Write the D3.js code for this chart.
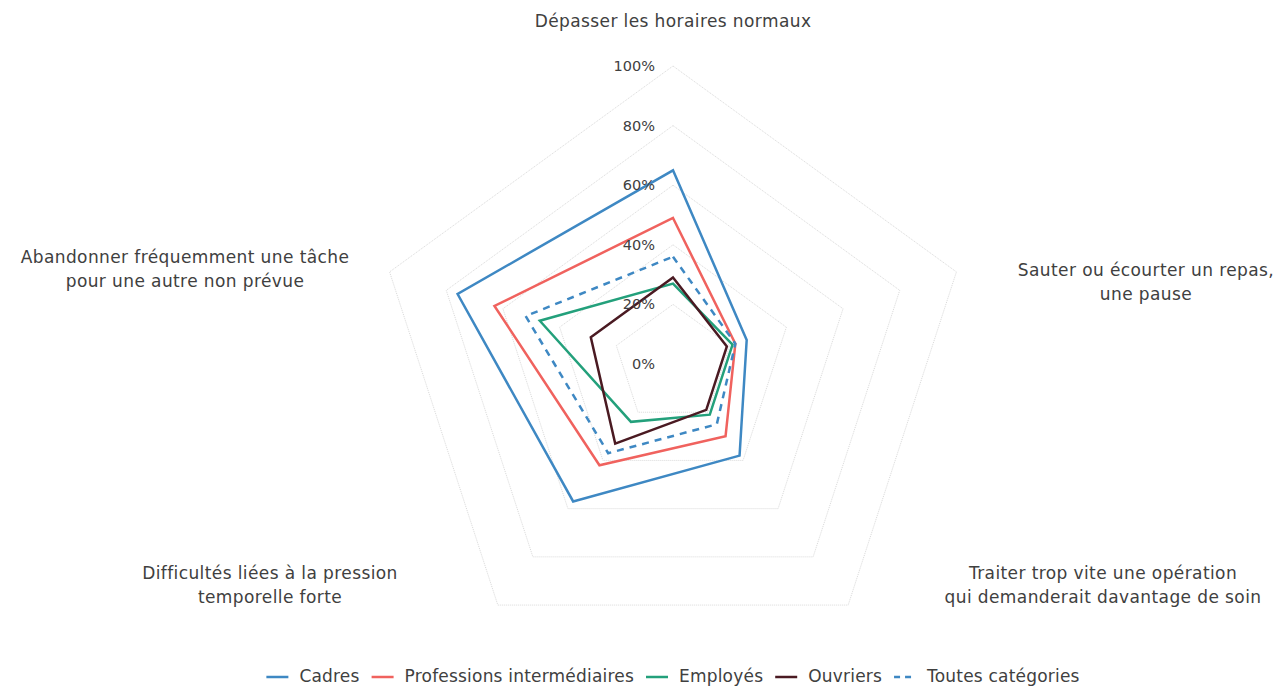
<meta charset="utf-8">
<body style="margin:0;background:#fff">
<div id="chart"></div>
</body>
<script src="https://cdn.jsdelivr.net/npm/d3@7"></script>
<script>
var axes = [
  ["Dépasser les horaires normaux"],
  ["Sauter ou écourter un repas,", "une pause"],
  ["Traiter trop vite une opération", "qui demanderait davantage de soin"],
  ["Difficultés liées à la pression", "temporelle forte"],
  ["Abandonner fréquemment une tâche", "pour une autre non prévue"]
];
var seriesNames = ["Cadres", "Professions intermédiaires", "Employés", "Ouvriers", "Toutes catégories"];
var cadres = [65, 26, 38, 57, 76];
var profInter = [49, 22, 30, 42, 63];
var employes = [27, 21, 21, 24, 47];
var ouvriers = [29, 19, 19, 33, 29];
var toutes = [36, 22, 25, 37, 52];
var ticks = [0, 20, 40, 60, 80, 100];

var colors = ["#3e88c3", "#f0625e", "#23a07b", "#4a1a22", "#3e88c3"];
var dashes = [null, null, null, null, "7,6"];
var allSeries = [cadres, profInter, employes, ouvriers, toutes];

var width = 1286, height = 686;
var cx = 673, cy = 364, R = 298;

var svg = d3.select("#chart").append("svg")
  .attr("width", width)
  .attr("height", height)
  .style("font-family", "'DejaVu Sans', sans-serif");

var r = d3.scaleLinear().domain([0, 100]).range([0, R]);
var angle = d3.scaleLinear().domain([0, axes.length]).range([0, 2 * Math.PI]);

function pt(i, v) {
  var a = angle(i);
  return [cx + r(v) * Math.sin(a), cy - r(v) * Math.cos(a)];
}

var line = d3.line().curve(d3.curveLinearClosed);

// grid
svg.append("g").selectAll("path")
  .data(ticks.slice(1))
  .enter().append("path")
  .attr("d", function(t) { return line(axes.map(function(d, i) { return pt(i, t); })); })
  .attr("fill", "none")
  .attr("stroke", "#d9d9d9")
  .attr("stroke-width", 1)
  .attr("stroke-dasharray", "1,1");

// series
svg.append("g").selectAll("path")
  .data(allSeries)
  .enter().append("path")
  .attr("d", function(s) { return line(s.map(function(v, i) { return pt(i, v); })); })
  .attr("fill", "none")
  .attr("stroke", function(d, i) { return colors[i]; })
  .attr("stroke-width", 2.5)
  .attr("stroke-linejoin", "miter")
  .attr("stroke-dasharray", function(d, i) { return dashes[i]; });

// tick labels
svg.append("g").selectAll("text")
  .data(ticks)
  .enter().append("text")
  .attr("x", cx - 18)
  .attr("y", function(t) { return cy - r(t) + 1; })
  .attr("text-anchor", "end")
  .attr("dominant-baseline", "middle")
  .attr("font-size", 14.5)
  .attr("fill", "#404040")
  .text(function(t) { return t + "%"; });

// axis labels
var labelPos = [[673, 22], [1146, 271], [1103, 574], [270, 574], [185, 258]];
axes.forEach(function(lines, i) {
  var t = svg.append("text")
    .attr("x", labelPos[i][0])
    .attr("y", labelPos[i][1])
    .attr("text-anchor", "middle")
    .attr("dominant-baseline", "middle")
    .attr("font-size", 17)
    .attr("letter-spacing", 0.4)
    .attr("fill", "#404040");
  lines.forEach(function(l, j) {
    t.append("tspan").attr("x", labelPos[i][0]).attr("dy", j ? 24 : 0).text(l);
  });
});

// legend
var legend = svg.append("g");
var x = 0;
seriesNames.forEach(function(name, i) {
  var g = legend.append("g").attr("transform", "translate(" + x + ",0)");
  g.append("line")
    .attr("x1", 0).attr("x2", 22).attr("y1", 0).attr("y2", 0)
    .attr("stroke", colors[i])
    .attr("stroke-width", 2.5)
    .attr("stroke-dasharray", dashes[i] ? "6,5" : null);
  var t = g.append("text")
    .attr("x", 33)
    .attr("y", 0)
    .attr("dominant-baseline", "middle")
    .attr("font-size", 17)
    .attr("letter-spacing", 0.2)
    .attr("fill", "#404040")
    .text(name);
  x += 33 + t.node().getComputedTextLength() + 12;
});
legend.attr("transform", "translate(" + (cx - (x - 12) / 2) + ",677)");
</script>
